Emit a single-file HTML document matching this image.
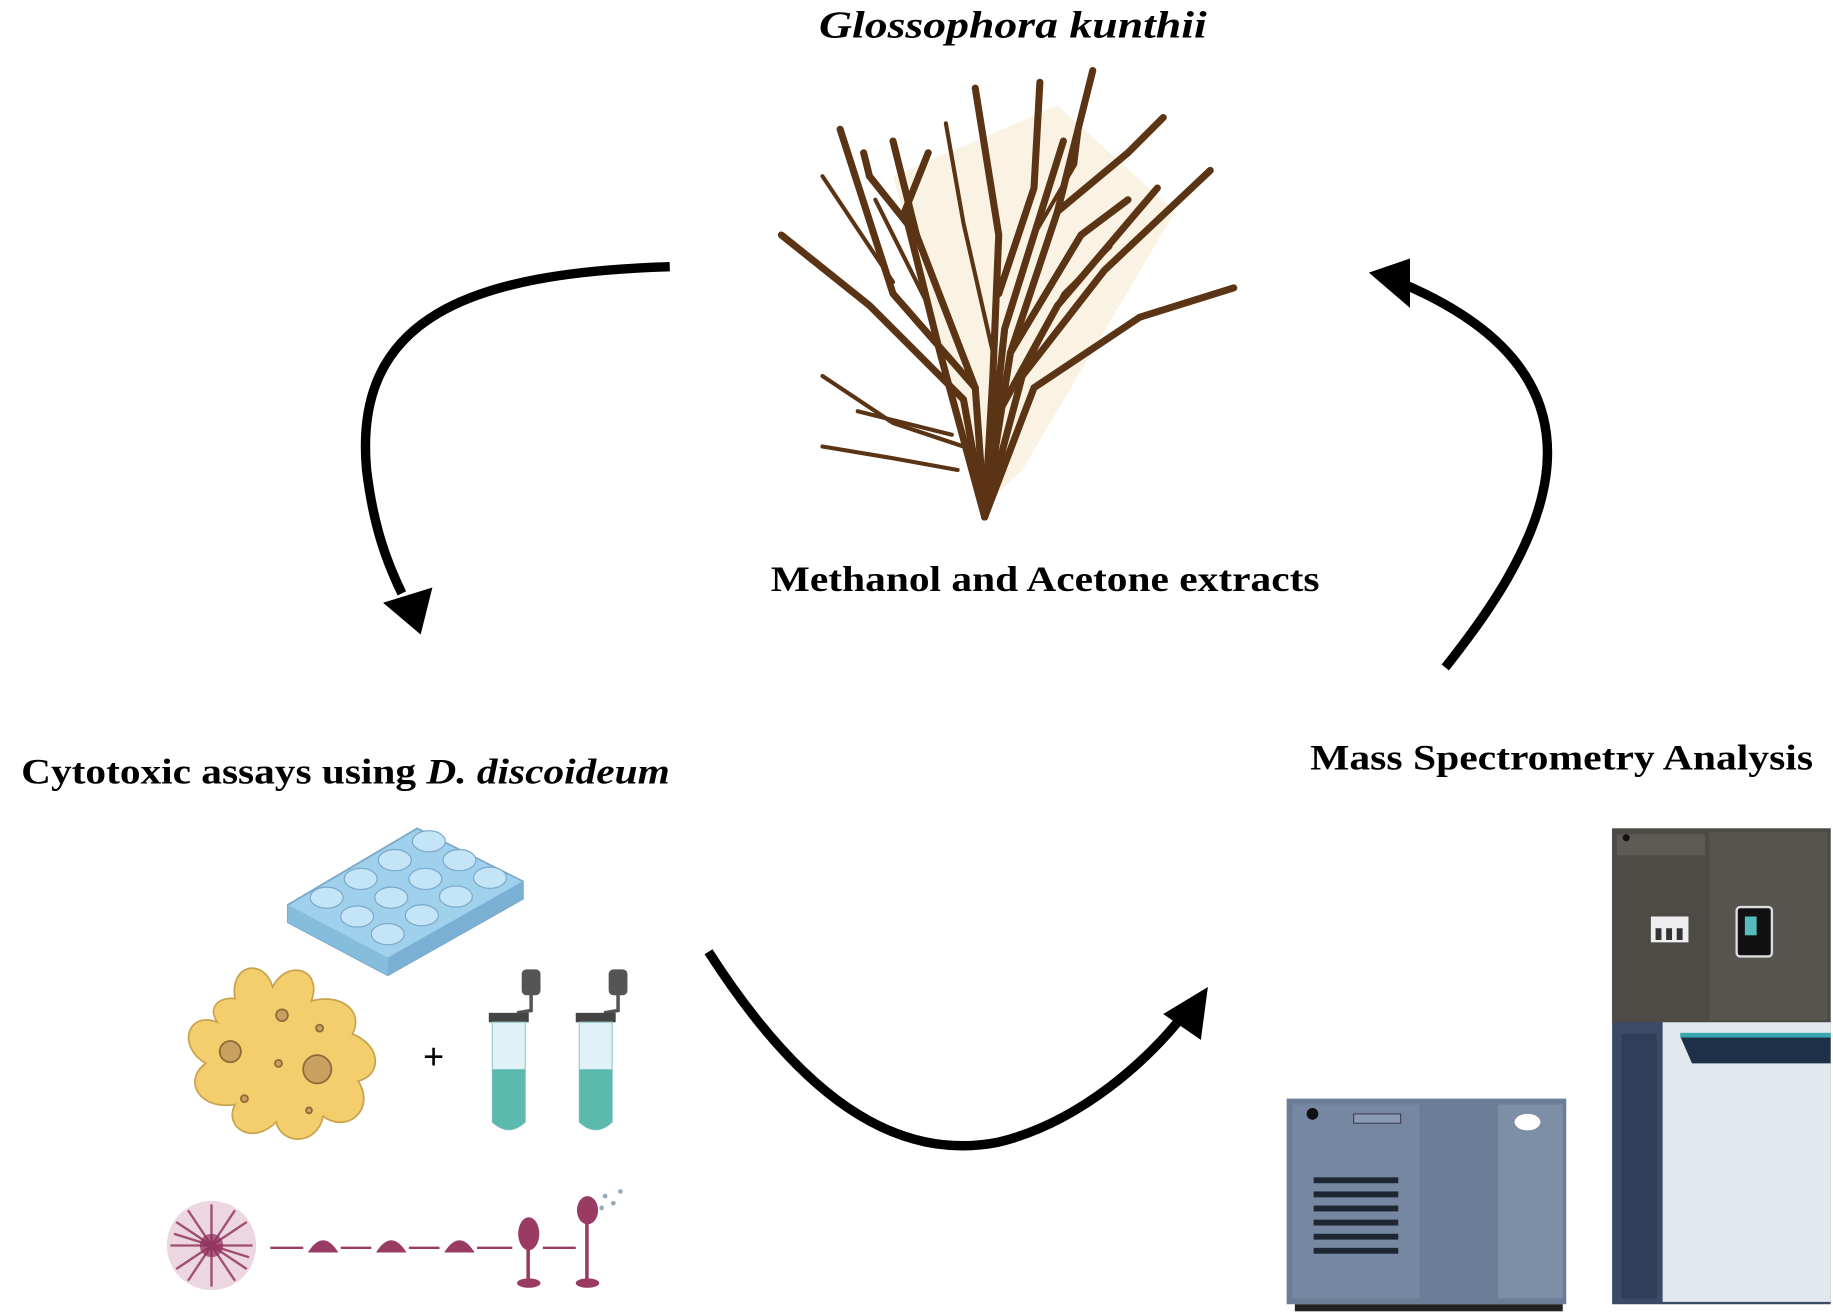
<!DOCTYPE html>
<html><head><meta charset="utf-8"><style>
html,body{margin:0;padding:0;background:#fff;}
svg{display:block;}
text{font-family:"Liberation Serif",serif;font-weight:bold;fill:#000;}
</style></head><body>
<svg width="1833" height="1316" viewBox="0 0 1560 1120" preserveAspectRatio="none" xmlns="http://www.w3.org/2000/svg">
<text x="697" y="32" font-size="32" font-style="italic" textLength="330" lengthAdjust="spacingAndGlyphs">Glossophora kunthii</text>
<text x="656" y="503" font-size="31" textLength="467" lengthAdjust="spacingAndGlyphs">Methanol and Acetone extracts</text>
<text x="18" y="667" font-size="31" textLength="552" lengthAdjust="spacingAndGlyphs">Cytotoxic assays using <tspan font-style="italic">D. discoideum</tspan></text>
<text x="1115" y="655" font-size="31" textLength="428" lengthAdjust="spacingAndGlyphs">Mass Spectrometry Analysis</text>

<!-- seaweed -->
<g stroke="#5a3414" stroke-linecap="round" fill="none">
<path d="M838,430 L760,150 L900,90 L1000,180 L870,400Z" fill="#f3e2c0" stroke="none" opacity="0.45"/>
<g stroke-width="6">
<path d="M838,440 L830,330 L780,200 L760,120"/>
<path d="M838,440 L845,320 L850,200 L830,75"/>
<path d="M838,440 L860,300 L900,180 L930,60"/>
<path d="M838,440 L870,320 L940,230 L1030,145"/>
<path d="M838,440 L820,340 L740,260 L665,200"/>
<path d="M838,440 L880,330 L970,270 L1050,245"/>
<path d="M830,330 L760,250 L715,110"/>
<path d="M850,250 L880,160 L885,70"/>
<path d="M900,180 L960,130 L990,100"/>
<path d="M860,300 L920,200 L960,170"/>
<path d="M780,200 L740,150 L735,130"/>
<path d="M838,440 L800,300 L770,180 L790,130"/>
<path d="M845,360 L900,260 L985,160"/>
<path d="M838,440 L855,280 L905,120"/>
</g>
<g stroke-width="3.5">
<path d="M820,380 L760,360 L700,320"/>
<path d="M815,400 L760,390 L700,380"/>
<path d="M810,370 L730,350"/>
<path d="M845,300 L820,190 L805,105"/>
<path d="M870,320 L905,250 L945,210"/>
<path d="M790,260 L760,200 L745,170"/>
<path d="M880,200 L915,140 L920,100"/>
<path d="M760,240 L720,180 L700,150"/>
</g>
</g>

<!-- arrows -->
<g fill="none" stroke="#000" stroke-width="8">
<path d="M570,227 C 400,232 300,270 312,400 C 318,450 330,480 342,505"/>
<path d="M1230,568 C 1300,480 1400,330 1195,242"/>
<path d="M603,810 C 680,930 760,990 850,972 C 920,955 980,900 1010,860"/>
</g>
<g fill="#000">
<polygon points="326,513 368,500 358,540"/>
<polygon points="1165,232 1200,220 1200,262"/>
<polygon points="1028,840 990,863 1022,885"/>
</g>

<!-- well plate -->
<g>
<polygon points="245,770 355,705 445,750 445,765 330,830 245,785" fill="#9fd0ec" stroke="#7aa8c8" stroke-width="1.5"/>
<polygon points="245,770 330,815 330,830 245,785" fill="#86bcdc"/>
<polygon points="330,815 445,750 445,765 330,830" fill="#7ab0d4"/>
<g fill="#c4e4f7" stroke="#7aa8c8" stroke-width="1">
<ellipse cx="365" cy="716" rx="14" ry="9"/><ellipse cx="391" cy="732" rx="14" ry="9"/><ellipse cx="417" cy="747" rx="14" ry="9"/>
<ellipse cx="336" cy="732" rx="14" ry="9"/><ellipse cx="362" cy="748" rx="14" ry="9"/><ellipse cx="388" cy="763" rx="14" ry="9"/>
<ellipse cx="307" cy="748" rx="14" ry="9"/><ellipse cx="333" cy="764" rx="14" ry="9"/><ellipse cx="359" cy="779" rx="14" ry="9"/>
<ellipse cx="278" cy="764" rx="14" ry="9"/><ellipse cx="304" cy="780" rx="14" ry="9"/><ellipse cx="330" cy="795" rx="14" ry="9"/>
</g>
</g>

<!-- amoeba -->
<path d="M200,850 C 195,820 225,815 232,840 C 245,815 275,825 265,852 C 290,845 310,860 300,880 C 325,890 325,915 305,920 C 320,945 295,965 275,950 C 270,975 240,975 235,955 C 215,975 190,960 200,940 C 170,945 155,920 175,905 C 150,890 160,860 185,870 C 175,855 190,848 200,850Z" fill="#f4cd6c" stroke="#c9a450" stroke-width="1.5"/>
<g fill="#c9a060" stroke="#8c6a3a" stroke-width="1.5">
<circle cx="196" cy="895" r="9"/><circle cx="270" cy="910" r="12"/><circle cx="240" cy="864" r="5"/><circle cx="272" cy="875" r="3"/><circle cx="237" cy="905" r="3"/><circle cx="208" cy="935" r="3"/><circle cx="263" cy="945" r="2.5"/>
</g>
<text x="369" y="910" font-size="32" text-anchor="middle" font-family="Liberation Sans">+</text>

<!-- tubes -->
<g>
<rect x="444" y="825" width="16" height="22" rx="4" fill="#555"/>
<rect x="518" y="825" width="16" height="22" rx="4" fill="#555"/>
<path d="M452,845 L452,860 L440,862" stroke="#555" stroke-width="3" fill="none"/>
<path d="M526,845 L526,860 L514,862" stroke="#555" stroke-width="3" fill="none"/>
<rect x="416" y="862" width="34" height="8" fill="#444"/>
<rect x="490" y="862" width="34" height="8" fill="#444"/>
<path d="M419,870 L447,870 L447,955 Q433,968 419,955Z" fill="#e0f2f7" stroke="#9cc" stroke-width="1"/>
<path d="M493,870 L521,870 L521,955 Q507,968 493,955Z" fill="#e0f2f7" stroke="#9cc" stroke-width="1"/>
<path d="M419,910 L447,910 L447,955 Q433,968 419,955Z" fill="#5cb9ad"/>
<path d="M493,910 L521,910 L521,955 Q507,968 493,955Z" fill="#5cb9ad"/>
</g>

<!-- dicty life cycle -->
<g fill="#9a3b64">
<circle cx="180" cy="1060" r="38" fill="#c88aa6" opacity="0.35"/>
<g stroke="#8e2e58" stroke-width="2" opacity="0.8">
<path d="M150,1040 L210,1080 M150,1080 L210,1040 M180,1025 L180,1095 M145,1060 L215,1060 M160,1030 L200,1090 M200,1030 L160,1090 M148,1050 L212,1070"/>
</g>
<circle cx="180" cy="1060" r="10" fill="#8e2e58" opacity="0.7"/>
<path d="M262,1066 Q275,1045 288,1066Z"/>
<path d="M320,1066 Q333,1045 346,1066Z"/>
<path d="M378,1066 Q391,1045 404,1066Z"/>
<ellipse cx="450" cy="1050" rx="9" ry="14"/>
<rect x="448" y="1050" width="3" height="40"/>
<ellipse cx="450" cy="1092" rx="10" ry="4"/>
<ellipse cx="500" cy="1030" rx="9" ry="12"/>
<rect x="498" y="1035" width="3" height="55"/>
<ellipse cx="500" cy="1092" rx="10" ry="4"/>
</g>
<g stroke="#9a3b64" stroke-width="2">
<line x1="230" y1="1062" x2="258" y2="1062"/><line x1="290" y1="1062" x2="316" y2="1062"/>
<line x1="348" y1="1062" x2="374" y2="1062"/><line x1="406" y1="1062" x2="436" y2="1062"/><line x1="462" y1="1062" x2="490" y2="1062"/>
</g>
<g fill="#9ab" ><circle cx="515" cy="1018" r="2"/><circle cx="522" cy="1024" r="2"/><circle cx="528" cy="1014" r="2"/><circle cx="512" cy="1028" r="2"/></g>

<!-- mass spec left unit -->
<rect x="1095" y="935" width="238" height="175" fill="#6c7d97"/>
<rect x="1100" y="940" width="108" height="165" fill="#7688a1"/>
<rect x="1275" y="940" width="55" height="165" fill="#7d8ea7"/>
<circle cx="1117" cy="948" r="5" fill="#111"/>
<rect x="1152" y="948" width="40" height="8" fill="#8a9bb3" stroke="#445" stroke-width="1"/>
<ellipse cx="1300" cy="955" rx="11" ry="7" fill="#fff"/>
<g fill="#1e2634"><rect x="1118" y="1002" width="72" height="5"/><rect x="1118" y="1014" width="72" height="5"/><rect x="1118" y="1026" width="72" height="5"/><rect x="1118" y="1038" width="72" height="5"/><rect x="1118" y="1050" width="72" height="5"/><rect x="1118" y="1062" width="72" height="5"/></g>
<rect x="1102" y="1110" width="228" height="6" fill="#222"/>

<!-- mass spec right unit -->
<rect x="1372" y="705" width="186" height="405" fill="#3b4a66"/>
<rect x="1372" y="705" width="186" height="165" fill="#4e4b46"/>
<rect x="1376" y="710" width="75" height="18" fill="#5e5b56"/>
<rect x="1455" y="708" width="100" height="160" fill="#58554f"/>
<circle cx="1384" cy="713" r="3" fill="#111"/>
<rect x="1405" y="780" width="32" height="22" fill="#eee"/>
<g fill="#333"><rect x="1409" y="790" width="5" height="10"/><rect x="1418" y="790" width="5" height="10"/><rect x="1427" y="790" width="5" height="10"/></g>
<rect x="1478" y="772" width="30" height="42" rx="3" fill="#111" stroke="#ddd" stroke-width="2"/>
<rect x="1485" y="780" width="10" height="16" fill="#5bb"/>
<rect x="1415" y="870" width="143" height="238" fill="#e2e9ee"/>
<polygon points="1430,882 1558,882 1558,905 1440,905" fill="#1d3048"/>
<rect x="1430" y="879" width="128" height="4" fill="#3aa8b0"/>
<rect x="1380" y="880" width="30" height="225" fill="#2f3f5a"/>
</svg>
</body></html>
